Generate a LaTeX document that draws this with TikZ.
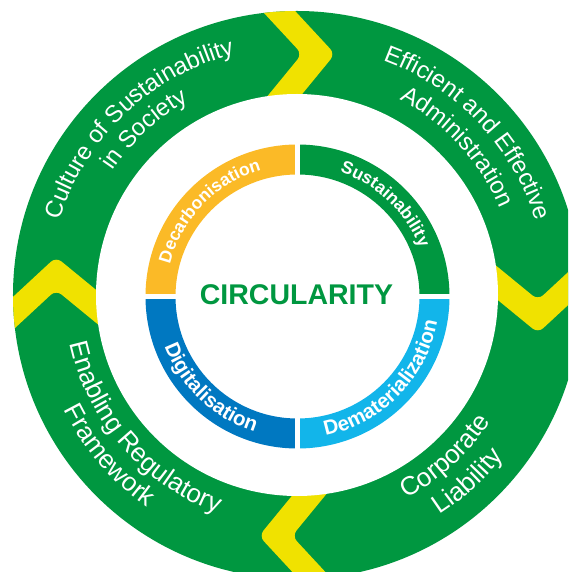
\documentclass[tikz,border=0pt]{standalone}
\usepackage{fontspec}
\setmainfont{Liberation Sans}
\usetikzlibrary{decorations.text}
\definecolor{ringgreen}{RGB}{0,151,64}
\definecolor{chevyellow}{RGB}{240,226,0}
\definecolor{decarbcol}{RGB}{251,186,39}
\definecolor{digitcol}{RGB}{0,120,193}
\definecolor{dematcol}{RGB}{18,181,234}
\newcommand\outerU{\fontsize{24pt}{24pt}\selectfont}
\newcommand\outerL{\fontsize{26pt}{26pt}\selectfont}
\newcommand\innerU{\fontsize{17.5pt}{17.5pt}\selectfont\bfseries}
\newcommand\innerL{\fontsize{20.5pt}{20.5pt}\selectfont\bfseries}
% clockwise arc text (upper half): #1 centre angle, #2 radius, #3 font, #4 text
\newcommand\cwtext[4]{%
  \path[decorate, decoration={text along path, text align=center, text color=white, text={|#3|#4}}]
    ({#1+70}:#2) arc[start angle={#1+70}, end angle={#1-70}, radius=#2];}
% counter-clockwise arc text (lower half)
\newcommand\ccwtext[4]{%
  \path[decorate, decoration={text along path, text align=center, text color=white, text={|#3|#4}}]
    ({#1-70}:#2) arc[start angle={#1-70}, end angle={#1+70}, radius=#2];}
\tikzset{
  chevron/.style={fill=chevyellow, rounded corners=7pt},
  quadrant/.style={draw=none},
  centretext/.style={font=\bfseries\fontsize{28.5pt}{30pt}\selectfont, text=ringgreen, inner sep=0pt}
}
\begin{document}
\begin{tikzpicture}
\useasboundingbox (-297pt,-277pt) rectangle (271pt,295pt);
\clip (-297pt,-277pt) rectangle (271pt,295pt);
\fill[white] (-297pt,-277pt) rectangle (271pt,295pt);
% outer ring
\fill[ringgreen] (0,0) circle (284pt);
\begin{scope}
  \clip (0,0) circle (284pt);
  \foreach \a in {0,-90,-180,-270} {
    \path[chevron, rotate=\a] (-59pt,310pt) -- (5pt,241pt) -- (-45pt,180pt)
      -- (-12pt,180pt) -- (38pt,241pt) -- (-26pt,310pt) -- cycle;
  }
\end{scope}
\fill[white] (0,0) circle (201pt);
% outer texts
\cwtext{133.5}{249pt}{\outerU}{Culture of Sustainability}
\cwtext{132.6}{222pt}{\outerU}{in Society}
\cwtext{43.5}{250pt}{\outerU}{Efficient and Effective}
\cwtext{42.7}{221pt}{\outerU}{Administration}
\ccwtext{221}{232pt}{\outerL}{Enabling Regulatory}
\ccwtext{220.5}{260pt}{\outerL}{Framework}
\ccwtext{312.5}{231pt}{\outerL}{Corporate}
\ccwtext{312.5}{262pt}{\outerL}{Liability}
% inner ring
\begin{scope}[shift={(0.5pt,-1.5pt)}]
  \fill[ringgreen] (0:152pt) arc[start angle=0, end angle=90, radius=152pt]
    -- (90:122pt) arc[start angle=90, end angle=0, radius=122pt] -- cycle;
  \fill[decarbcol] (90:152pt) arc[start angle=90, end angle=180, radius=152pt]
    -- (180:122pt) arc[start angle=180, end angle=90, radius=122pt] -- cycle;
  \fill[digitcol] (180:152pt) arc[start angle=180, end angle=270, radius=152pt]
    -- (270:122pt) arc[start angle=270, end angle=180, radius=122pt] -- cycle;
  \fill[dematcol] (270:152pt) arc[start angle=270, end angle=360, radius=152pt]
    -- (0:122pt) arc[start angle=360, end angle=270, radius=122pt] -- cycle;
  \fill[white] (-2.5pt,118pt) rectangle (2.5pt,156pt);
  \fill[white] (-2.5pt,-118pt) rectangle (2.5pt,-156pt);
  \fill[white] (118pt,-2.5pt) rectangle (156pt,2.5pt);
  \fill[white] (-118pt,-2.5pt) rectangle (-156pt,2.5pt);
  \cwtext{135.85}{131.5pt}{\innerU}{Decarbonisation}
  \cwtext{46.4}{131.5pt}{\innerU}{Sustainability}
  \ccwtext{315.7}{142pt}{\innerL}{Dematerialization}
  \ccwtext{226.45}{142pt}{\innerL}{Digitalisation}
\end{scope}
\node[centretext] (circ) at (-0.5pt,0pt) {CIRCULARITY};
\end{tikzpicture}
\end{document}
